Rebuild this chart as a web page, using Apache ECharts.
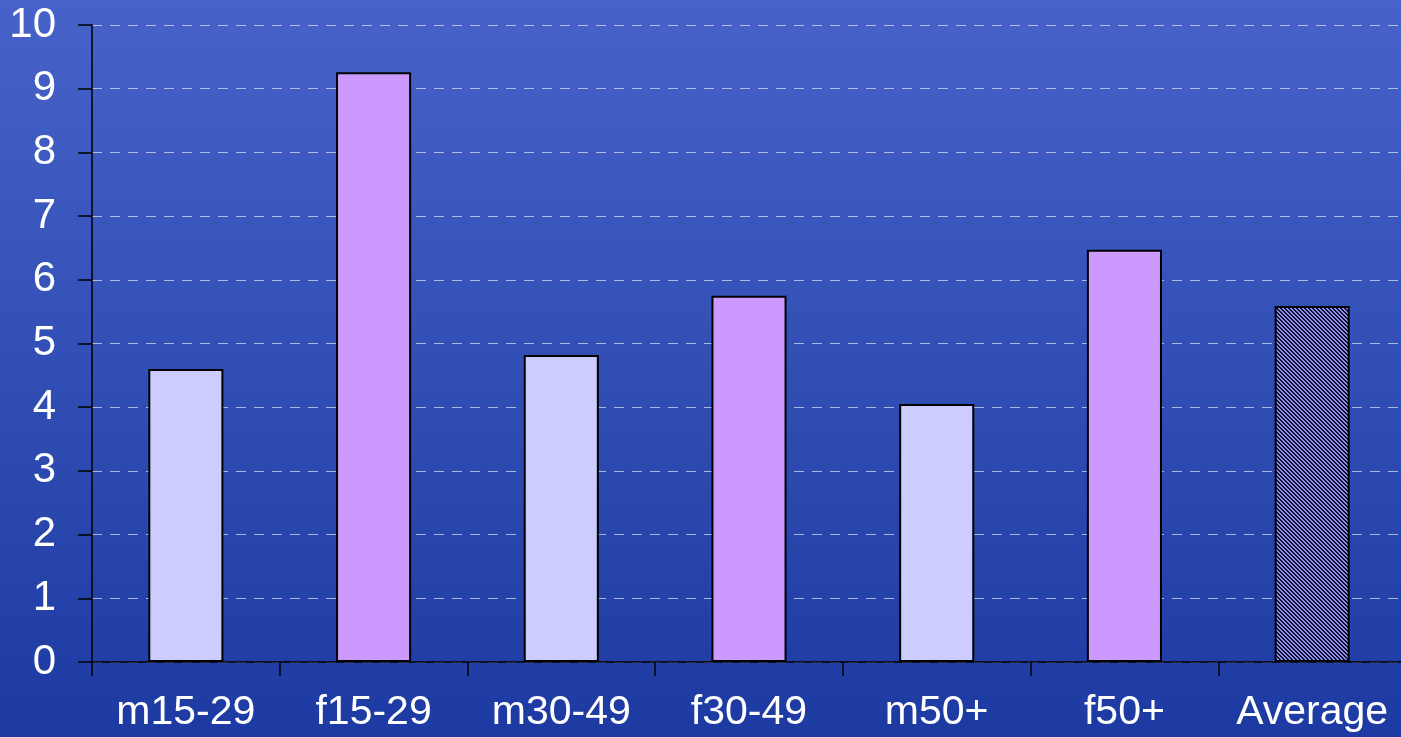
<!DOCTYPE html>
<html>
<head>
<meta charset="utf-8">
<script src="https://cdn.jsdelivr.net/npm/echarts@6/dist/echarts.min.js"></script>
<style>
html,body{margin:0;padding:0;overflow:hidden;width:1401px;height:737px;}
#c{width:1420px;height:737px;}
</style>
</head>
<body>
<div id="c"></div>
<script>
const categories = ['m15-29','f15-29','m30-49','f30-49','m50+','f50+','Average'];
const values = [4.60, 9.26, 4.82, 5.75, 4.05, 6.47, 5.59];
const yTicks = [0,1,2,3,4,5,6,7,8,9,10];

const pc = document.createElement('canvas');
pc.width = 4; pc.height = 4;
const pctx = pc.getContext('2d');
pctx.fillStyle = '#9090f0';
pctx.fillRect(0,0,4,4);
pctx.fillStyle = '#101030';
for (let y = 0; y < 4; y++) {
  for (let x = 0; x < 4; x++) {
    const d = ((x - y) % 4 + 4) % 4;
    if (d < 2) pctx.fillRect(x, y, 1, 1);
  }
}
const hatch = {image: pc, repeat: 'repeat'};

const colors = ['#ccccff','#cc99ff','#ccccff','#cc99ff','#ccccff','#cc99ff', hatch];

const chart = echarts.init(document.getElementById('c'));
chart.setOption({
  animation: false,
  backgroundColor: {
    type: 'linear', x: 0, y: 0, x2: 0, y2: 1,
    colorStops: [{offset: 0, color: '#4763c9'}, {offset: 1, color: '#1c3aa1'}]
  },
  grid: {left: 92, top: 25, width: 1314, height: 637, containLabel: false},
  xAxis: {
    type: 'category',
    data: categories,
    axisLine: {lineStyle: {color: '#000', width: 1.5}},
    axisTick: {show: true, length: 14, lineStyle: {color: '#000', width: 1.5}},
    axisLabel: {color: '#fff', fontSize: 41, fontFamily: 'Liberation Sans, Arial, sans-serif', margin: 30, interval: 0}
  },
  yAxis: {
    type: 'value',
    min: yTicks[0], max: yTicks[yTicks.length-1], interval: 1,
    axisLine: {show: true, lineStyle: {color: '#000', width: 1.5}},
    axisTick: {show: true, length: 14, lineStyle: {color: '#000', width: 1.5}},
    axisLabel: {color: '#fff', fontSize: 42, fontFamily: 'Liberation Sans, Arial, sans-serif', margin: 36, padding: [4, 0, 0, 0]},
    splitLine: {show: true, lineStyle: {color: 'rgba(215,220,240,0.75)', type: [10, 8], width: 1.2}}
  },
  series: [{
    type: 'bar',
    data: values.map((v, i) => ({value: v, itemStyle: {color: colors[i]}})),
    barWidth: '40%',
    itemStyle: {borderColor: '#000', borderWidth: 2}
  }]
});
</script>
</body>
</html>
